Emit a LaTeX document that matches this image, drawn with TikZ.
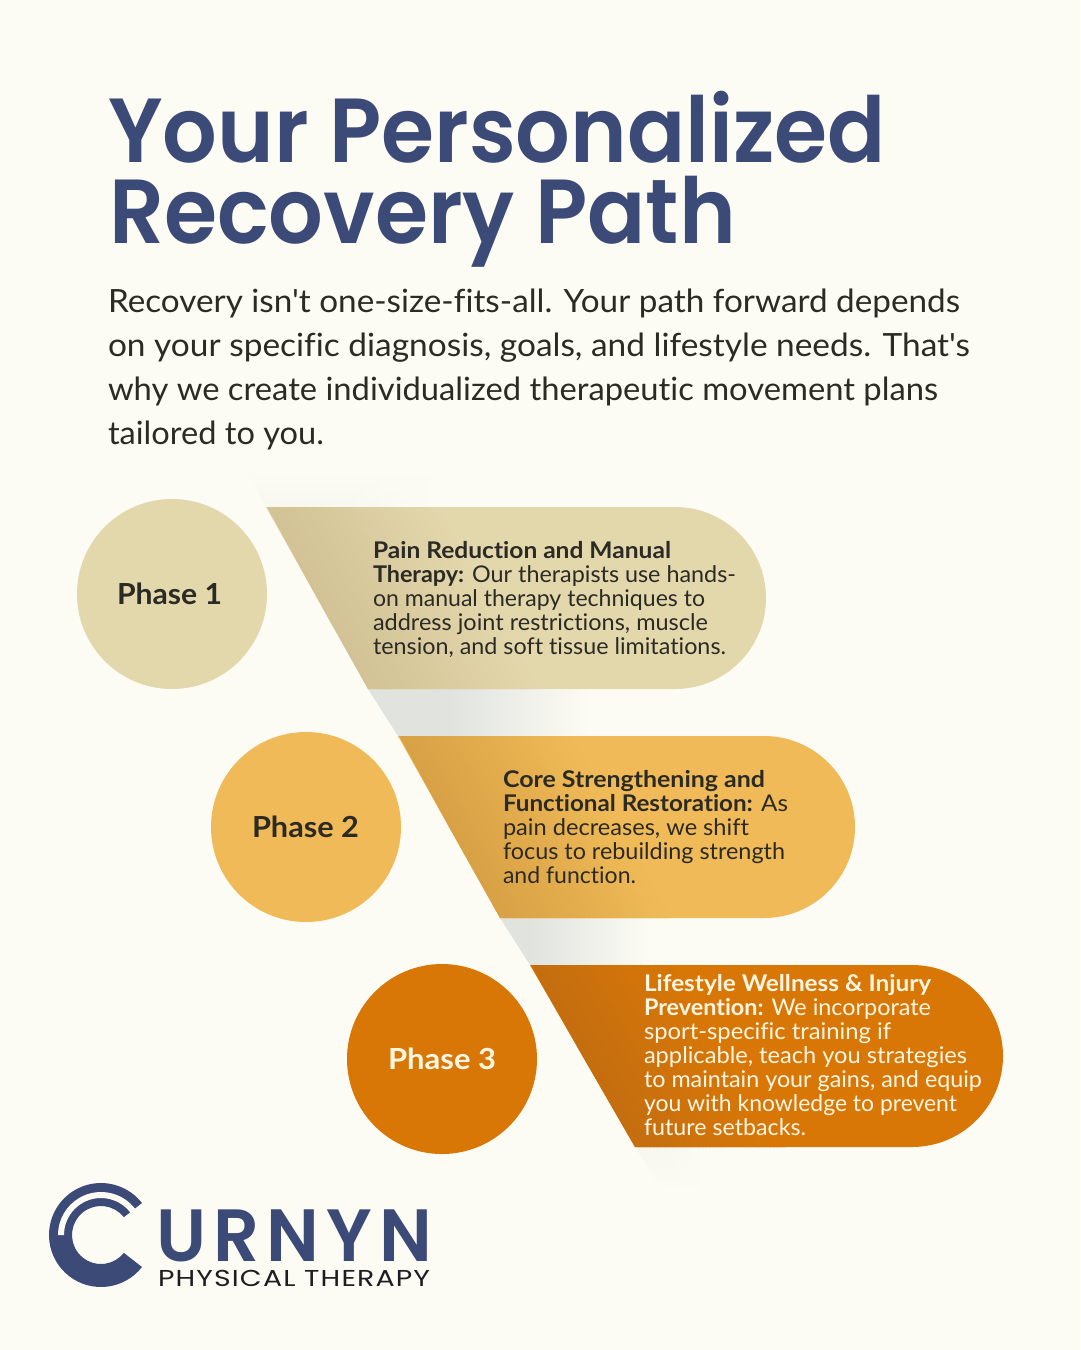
\documentclass[tikz,border=0pt]{standalone}
\usepackage{graphicx}
\usepackage{fontspec}
\usetikzlibrary{fadings}
\newfontfamily\bodyfont[Ligatures=NoCommon]{Lato}
\newfontfamily\titlefont{Poppins SemiBold}
\newfontfamily\logofont[LetterSpace=10]{Poppins SemiBold}
\newfontfamily\subfont[LetterSpace=4]{Poppins}
\definecolor{bgc}{HTML}{FCFCF4}
\definecolor{navy}{HTML}{3C4A78}
\definecolor{ink}{HTML}{2C2A25}
\definecolor{tan}{HTML}{E3D7AC}
\definecolor{tand}{HTML}{D2C295}
\definecolor{gold}{HTML}{EFBA57}
\definecolor{goldd}{HTML}{D8A145}
\definecolor{ora}{HTML}{D97706}
\definecolor{orad}{HTML}{C46E10}
\definecolor{shd}{HTML}{E1E3DF}
\definecolor{cream}{HTML}{FDF6E3}
\definecolor{blk85}{HTML}{1E1E22}
\newsavebox{\fitbox}
% \fitline{name}{x}{y}{width}{format}{text}: text squeezed to the reference's line width
\newcommand{\fitline}[6]{%
  \node[anchor=base west,inner sep=0pt,outer sep=0pt,text=\fitcol] (#1) at (#2,#3) {%
    \sbox{\fitbox}{#5#6}%
    \pgfmathsetmacro{\fitratio}{#4/\the\wd\fitbox}%
    \scalebox{\fitratio}[1]{\usebox{\fitbox}}};%
}
% \slantgrad{xtop}{ytop}{xbottom}{ybottom}{dark}{light}{reach}: gradient that runs parallel to the slanted edge
\newcommand{\slantgrad}[7]{%
  \fill[#6] (#1-5,#2-2) rectangle (1060,#4+2);%
  \foreach \i in {0,...,39}{%
    \pgfmathsetmacro{\off}{\i*#7/40}%
    \pgfmathsetmacro{\offb}{(\i+1)*#7/40+2}%
    \pgfmathtruncatemacro{\mixv}{100-\i*2.5}%
    \fill[#5!\mixv!#6] (#1+\off,#2-2) -- (#3+\off,#4+2) -- (#3+\offb,#4+2) -- (#1+\offb,#2-2) -- cycle;%
  }%
}
\newcommand{\blk}{\bodyfont\fontsize{23}{24}\selectfont}
\newcommand{\bod}{\bodyfont\fontsize{32}{44}\selectfont}
\newcommand{\phs}{\bodyfont\fontsize{29}{30}\selectfont\bfseries}
\tikzset{phasecircle/.style={circle,minimum size=190pt,inner sep=0pt,outer sep=0pt}}
\begin{document}
\begin{tikzpicture}[x=1pt,y=-1pt]
\useasboundingbox (0,0) rectangle (1080,1350);
\fill[bgc] (0,0) rectangle (1080,1350);
% soft shadows
\begin{scope}
\clip (247,470) -- (266,507) -- (430,507) -- (430,470) -- cycle;
\shade[top color=bgc,bottom color=bgc!82!shd] (240,470) rectangle (430,507);
\fill[bgc,path fading=west] (330,469) rectangle (431,508);
\end{scope}
\begin{scope}
\clip (368,689) -- (398,736) -- (600,736) -- (600,689) -- cycle;
\shade[left color=shd,right color=bgc] (450,689) rectangle (590,736);
\fill[shd] (368,689) -- (398,736) -- (450.3,736) -- (450.3,689) -- cycle;
\end{scope}
\begin{scope}
\clip (500,918) -- (530,965) -- (680,965) -- (680,918) -- cycle;
\shade[left color=shd,right color=bgc] (530,918) rectangle (650,965);
\fill[shd] (500,918) -- (530,965) -- (530.3,965) -- (530.3,918) -- cycle;
\end{scope}
\begin{scope}
\clip (635,1147) -- (662,1190) -- (700,1190) -- (700,1147) -- cycle;
\shade[top color=bgc!80!shd,bottom color=bgc] (630,1147) rectangle (700,1190);
\fill[bgc,path fading=west] (660,1146) rectangle (701,1191);
\end{scope}
% pills
\begin{scope}
\clip (266,507) -- (675,507) arc[start angle=90,end angle=-90,x radius=91,y radius=-91] -- (368,689) -- cycle;
\slantgrad{266}{507}{368}{689}{tand}{tan}{170}
\end{scope}
\begin{scope}
\clip (398,736) -- (764,736) arc[start angle=90,end angle=-90,x radius=91,y radius=-91] -- (500,918) -- cycle;
\slantgrad{398}{736}{500}{918}{goldd}{gold}{170}
\end{scope}
\begin{scope}
\clip (530,965) -- (912,965) arc[start angle=90,end angle=-90,x radius=91,y radius=-91] -- (635,1147) -- cycle;
\slantgrad{530}{965}{635}{1147}{orad}{ora}{150}
\end{scope}
% circles
\node[phasecircle,fill=tan] (c1) at (172,594) {};
\node[phasecircle,fill=gold] (c2) at (306,827) {};
\node[phasecircle,fill=ora] (c3) at (442,1059) {};
% title
\def\fitcol{navy}
\fitline{t1}{108}{162}{778}{\titlefont\fontsize{91}{91}\selectfont}{Your Personalized}
\fitline{t2}{109}{243}{627}{\titlefont\fontsize{91}{91}\selectfont}{Recovery Path}
% intro
\def\fitcol{ink}
\fitline{i1}{108}{312}{852}{\bod}{Recovery isn't one-size-fits-all. Your path forward depends}
\fitline{i2}{108}{356}{862}{\bod}{on your specific diagnosis, goals, and lifestyle needs. That's}
\fitline{i3}{108}{400}{830}{\bod}{why we create individualized therapeutic movement plans}
\fitline{i4}{108}{444}{216}{\bod}{tailored to you.}
% phase labels
\fitline{p1}{117}{604}{105}{\phs}{Phase 1}
\fitline{p2}{252}{837}{107}{\phs}{Phase 2}
% box 1
\fitline{a1}{373}{558}{298}{\blk}{\textbf{Pain Reduction and Manual}}
\fitline{a2}{373}{582}{363}{\blk}{\textbf{Therapy:} Our therapists use hands-}
\fitline{a3}{373}{606}{332}{\blk}{on manual therapy techniques to}
\fitline{a4}{373}{630}{335}{\blk}{address joint restrictions, muscle}
\fitline{a5}{373}{654}{353}{\blk}{tension, and soft tissue limitations.}
% box 2
\fitline{b1}{503}{787}{262}{\blk}{\textbf{Core Strengthening and}}
\fitline{b2}{503}{811}{285}{\blk}{\textbf{Functional Restoration:} As}
\fitline{b3}{503}{835}{246}{\blk}{pain decreases, we shift}
\fitline{b4}{503}{859}{282}{\blk}{focus to rebuilding strength}
\fitline{b5}{503}{883}{133}{\blk}{and function.}
\def\fitcol{cream}
\fitline{p3}{388}{1069}{108}{\phs}{Phase 3}
\fitline{d1}{644}{991}{287}{\blk}{\textbf{Lifestyle Wellness \& Injury}}
\fitline{d2}{644}{1015}{287}{\blk}{\textbf{Prevention:} We incorporate}
\fitline{d3}{644}{1039}{247}{\blk}{sport-specific training if}
\fitline{d4}{644}{1063}{323}{\blk}{applicable, teach you strategies}
\fitline{d5}{644}{1087}{338}{\blk}{to maintain your gains, and equip}
\fitline{d6}{644}{1111}{313}{\blk}{you with knowledge to prevent}
\fitline{d7}{644}{1135}{162}{\blk}{future setbacks.}
% logo mark (y axis points down, so upper-half angles are negative)
\coordinate (lc) at (101,1235);
\fill[navy] (lc) ++(38:52) arc[start angle=38,end angle=322,radius=52]
  -- ++(142:23) arc[start angle=322,end angle=38,radius=29] -- cycle;
\fill[bgc] (lc) ++(-30:43) arc[start angle=-30,end angle=-180,radius=43]
  -- ++(6,0) arc[start angle=-180,end angle=-30,radius=37] -- cycle;
% wordmark
\def\fitcol{navy}
\fitline{w1}{156}{1261}{276}{\logofont\fontsize{74}{74}\selectfont}{URNYN}
\def\fitcol{blk85}
\fitline{w2}{158}{1286}{272}{\subfont\fontsize{23}{23}\selectfont}{PHYSICAL THERAPY}
\end{tikzpicture}
\end{document}
